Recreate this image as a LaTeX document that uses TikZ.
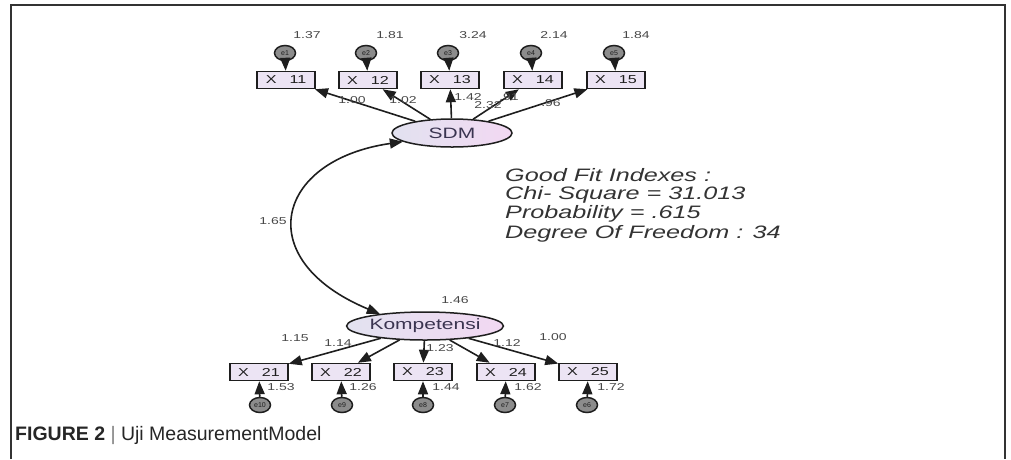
\documentclass[tikz,border=0pt]{standalone}
\usepackage{fontspec}
\setmainfont{Liberation Sans}
\newfontfamily\dsans[FakeStretch=1.4]{Liberation Sans}
\usetikzlibrary{arrows.meta,shapes.geometric}
\definecolor{boxfill}{HTML}{ECE4F4}
\definecolor{latl}{HTML}{E2E2F0}
\definecolor{latr}{HTML}{F2D8F2}
\definecolor{latt}{HTML}{3A3450}
\definecolor{errfill}{HTML}{8C8C8C}
\definecolor{ink}{HTML}{1E1E1E}
\tikzset{
  obs/.style={draw=ink, line width=1.5pt, fill=boxfill, minimum width=58pt, minimum height=17pt,
    inner sep=0pt, font=\dsans\fontsize{11.5}{12}\selectfont, text=ink},
  lat/.style={ellipse, draw=ink, line width=1.5pt, left color=latl, right color=latr,
    minimum width=120pt, minimum height=28pt, inner sep=0pt,
    font=\dsans\fontsize{15}{15}\selectfont, text=latt},
  err/.style={ellipse, draw=ink, line width=1.5pt, fill=errfill, minimum width=21pt, minimum height=15pt,
    inner sep=0pt, font=\fontsize{7}{7}\selectfont, text=ink},
  num/.style={font=\dsans\fontsize{10}{10}\selectfont, text=black!72, inner sep=0pt},
  arr/.style={-{Triangle[length=13pt,width=10pt]}, line width=1.6pt, draw=ink},
  biarr/.style={{Triangle[length=13pt,width=10pt]}-{Triangle[length=13pt,width=10pt]}, line width=1.6pt, draw=ink},
  fit/.style={font=\dsans\itshape\fontsize{18}{18}\selectfont, text=black!80, inner sep=0pt, anchor=west},
  frameline/.style={line width=1.5pt, draw=black!80},
}
\begin{document}
\begin{tikzpicture}[x=1pt,y=-1pt]
\useasboundingbox (0,0) rectangle (1011,459);
\draw[frameline] (11,459) -- (11,5) -- (1005,5) -- (1005,459);

% latent variables
\node[lat] (sdm) at (452,133) {SDM};
\node[lat] (komp) at (425,326) {Kompetensi};

% top indicators
\node[obs] (x11) at (286,80) {X\hspace{13pt}11};
\node[obs] (x12) at (368,80) {X\hspace{13pt}12};
\node[obs] (x13) at (450,80) {X\hspace{13pt}13};
\node[obs] (x14) at (533,80) {X\hspace{13pt}14};
\node[obs] (x15) at (616,80) {X\hspace{13pt}15};

\node[err] (e1) at (285,53) {e1};
\node[err] (e2) at (366,53) {e2};
\node[err] (e3) at (448,53) {e3};
\node[err] (e4) at (531,53) {e4};
\node[err] (e5) at (614,53) {e5};

\node[num] (v1) at (307,35) {1.37};
\node[num] (v2) at (390,35) {1.81};
\node[num] (v3) at (473,35) {3.24};
\node[num] (v4) at (554,35) {2.14};
\node[num] (v5) at (636,35) {1.84};

\foreach \e/\x in {e1/x11,e2/x12,e3/x13,e4/x14,e5/x15}{
  \draw[arr] (\e) -- (\x);
}
\foreach \x in {x11,x12,x13,x14,x15}{
  \draw[arr] (sdm) -- (\x);
}

\node[num] (l11) at (352,100) {1.00};
\node[num] (l12) at (403,100) {1.02};
\node[num] (l13) at (468,97) {1.42};
\node[num] (l13b) at (488,105) {2.32};
\node[num] (l14) at (509,97) {.91};
\node[num] (l15) at (551,103) {.96};

% bottom indicators
\node[obs] (x21) at (259,372) {X\hspace{13pt}21};
\node[obs] (x22) at (341,372) {X\hspace{13pt}22};
\node[obs] (x23) at (423,372) {X\hspace{13pt}23};
\node[obs] (x24) at (506,372) {X\hspace{13pt}24};
\node[obs] (x25) at (588,372) {X\hspace{13pt}25};

\node[err] (e10) at (260,405) {e10};
\node[err] (e9) at (342,405) {e9};
\node[err] (e8) at (423,405) {e8};
\node[err] (e7) at (505,405) {e7};
\node[err] (e6) at (587,405) {e6};

\foreach \e/\x in {e10/x21,e9/x22,e8/x23,e7/x24,e6/x25}{
  \draw[arr] (\e) -- (\x);
}
\foreach \x in {x21,x22,x23,x24,x25}{
  \draw[arr] (komp) -- (\x);
}

\node[num] (v10) at (281,387) {1.53};
\node[num] (v9) at (363,387) {1.26};
\node[num] (v8) at (446,387) {1.44};
\node[num] (v7) at (528,387) {1.62};
\node[num] (v6) at (611,387) {1.72};

\node[num] (l21) at (295,338) {1.15};
\node[num] (l22) at (338,343) {1.14};
\node[num] (l23) at (440,348) {1.23};
\node[num] (l24) at (507,343) {1.12};
\node[num] (l25) at (553,337) {1.00};

\node[num] (vk) at (455,300) {1.46};

% covariance
\draw[biarr] (sdm.190) .. controls (275,160) and (250,260) .. (komp.165);
\node[num] (cov) at (273,221) {1.65};

% fit indexes
\node[fit] (f1) at (505,175) {Good Fit Indexes :};
\node[fit] (f2) at (505,194.5) {Chi- Square = 31.013};
\node[fit] (f3) at (505,214) {Probability = .615};
\node[fit] (f4) at (505,234) {Degree Of Freedom : 34};

% caption
\node[anchor=west, inner sep=0pt, font=\fontsize{19.5}{20}\selectfont, text=black!85] (cap) at (15,435)
  {\textbf{FIGURE 2} {\color{black!50}|} Uji MeasurementModel};
\end{tikzpicture}
\end{document}
